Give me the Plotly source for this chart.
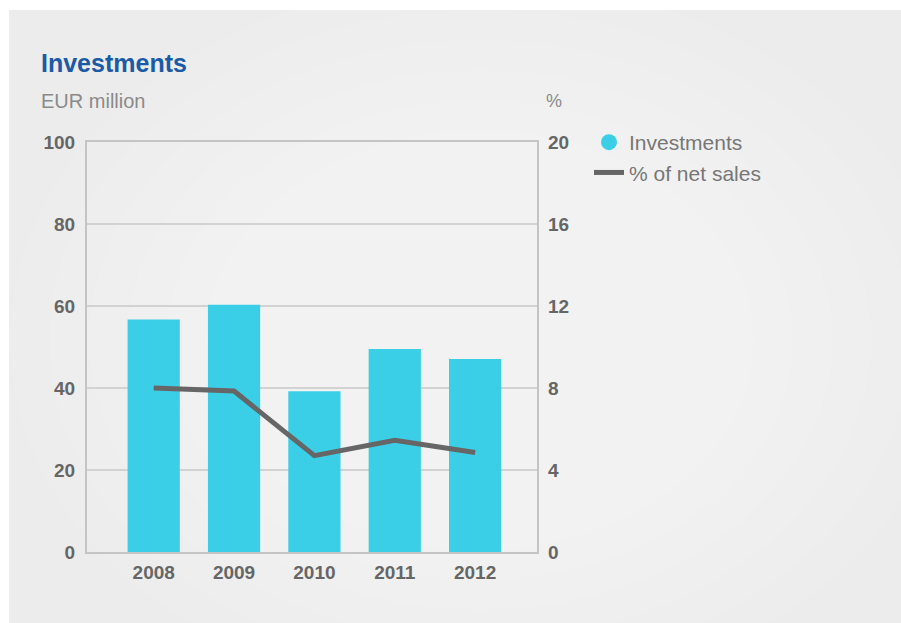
import plotly.graph_objects as go

years = ["2008", "2009", "2010", "2011", "2012"]
investments = [56.7, 60.3, 39.2, 49.5, 47.1]
pct_net_sales = [8.0, 7.85, 4.7, 5.45, 4.85]
left_ticks = [0, 20, 40, 60, 80, 100]
right_ticks = [0, 4, 8, 12, 16, 20]

W, H = 901, 623
L, R, T, B = 87, 537, 142, 552  # plot area in pixels
pw, ph = R - L, B - T


def px(x):
    return (x - L) / pw


def py(y):
    return (B - y) / ph


BAR = "#3bcfe7"
LINE = "#666666"

fig = go.Figure()
fig.add_trace(go.Bar(x=years, y=investments, marker=dict(color=BAR, line=dict(width=0)),
                     name="Investments", showlegend=False, yaxis="y"))
fig.add_trace(go.Scatter(x=[None], y=[None], mode="markers", name="Investments",
                         marker=dict(color=BAR, size=20, symbol="circle"), yaxis="y"))
fig.add_trace(go.Scatter(x=years, y=pct_net_sales, mode="lines", name="% of net sales",
                         line=dict(color=LINE, width=5), yaxis="y2"))

shapes = [
    dict(type="rect", xref="paper", yref="paper", x0=px(9), x1=px(915), y0=py(640), y1=py(10),
         fillcolor="#ececec", line=dict(width=0), layer="below"),
]
# soft radial light in the card
cx, cy = 480, 340
n = 12
for i in range(n):
    f = 1 - i / n
    rx, ry = 470 * f, 360 * f
    shapes.append(dict(type="circle", xref="paper", yref="paper", x0=px(cx - rx), x1=px(cx + rx),
                       y0=py(cy + ry), y1=py(cy - ry), fillcolor="white", opacity=0.07,
                       line=dict(width=0), layer="below"))
# clip the overflow of the light back to the card edges (white page margins)
shapes += [
    dict(type="rect", xref="paper", yref="paper", x0=px(-5), x1=px(9), y0=py(640), y1=py(-5),
         fillcolor="white", line=dict(width=0), layer="below"),
    dict(type="rect", xref="paper", yref="paper", x0=px(-5), x1=px(915), y0=py(10), y1=py(-5),
         fillcolor="white", line=dict(width=0), layer="below"),
]

annotations = [
    dict(text="<b>Investments</b>", x=px(39), y=py(63), xref="paper", yref="paper",
         xanchor="left", yanchor="middle", showarrow=False,
         font=dict(family="Liberation Sans", size=25, color="#1b5aa6")),
    dict(text="EUR million", x=px(39), y=py(101), xref="paper", yref="paper",
         xanchor="left", yanchor="middle", showarrow=False,
         font=dict(family="Liberation Sans", size=20, color="#8a8a8a")),
    dict(text="%", x=px(544), y=py(101), xref="paper", yref="paper",
         xanchor="left", yanchor="middle", showarrow=False,
         font=dict(family="Liberation Sans", size=18, color="#8a8a8a")),
]

tickfont = dict(family="Liberation Sans", size=19, color="#666666")

fig.update_layout(
    width=W, height=H,
    margin=dict(l=L, r=W - R, t=T, b=H - B, pad=0),
    paper_bgcolor="white", plot_bgcolor="rgba(0,0,0,0)",
    bargap=0.35,
    shapes=shapes, annotations=annotations,
    showlegend=True,
    legend=dict(x=px(589), y=py(122), xanchor="left", yanchor="top",
                bgcolor="rgba(0,0,0,0)", borderwidth=0,
                font=dict(family="Liberation Sans", size=21, color="#777777"),
                traceorder="grouped", itemsizing="trace", tracegroupgap=9),
    xaxis=dict(range=[-0.83, 4.77], showline=True, mirror=True, linecolor="#c4c4c4", linewidth=2,
               showgrid=False, ticks="", tickfont=tickfont,
               tickprefix="<b>", ticksuffix="</b>", ticklabelstandoff=2, fixedrange=True),
    yaxis=dict(range=[0, 100], tickvals=left_ticks, ticktext=[f"<b>{v}</b>" for v in left_ticks],
               showline=True, mirror=True, linecolor="#c4c4c4", linewidth=2,
               showgrid=True, gridcolor="#d2d2d2", gridwidth=2, zeroline=False,
               ticks="", tickfont=tickfont, ticklabelstandoff=6),
    yaxis2=dict(range=[0, 20], tickvals=right_ticks, ticktext=[f"<b>{v}</b>" for v in right_ticks],
                overlaying="y", side="right", showgrid=False, showline=False, zeroline=False,
                ticks="", tickfont=tickfont, ticklabelstandoff=10),
)

fig.write_html("out.html",
               config={"displayModeBar": False},
               post_script="document.body.style.margin='0';"
                           "document.documentElement.style.overflow='hidden';"
                           "document.body.style.overflow='hidden';")
